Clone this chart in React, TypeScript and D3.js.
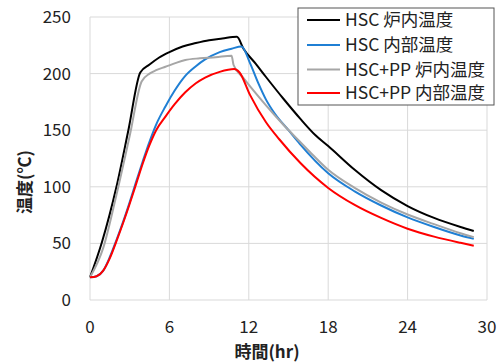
import React from "react";
import * as d3 from "d3";

const xTicks = [0, 6, 12, 18, 24, 30];
const yTicks = [0, 50, 100, 150, 200, 250];

const seriesNames = ["HSC 炉内温度", "HSC 内部温度", "HSC+PP 炉内温度", "HSC+PP 内部温度"];
const seriesColors = ["#000000", "#1f7fd4", "#a6a6a6", "#ff0000"];

const hscFurnaceT = [0, 0.9, 2.0, 2.9, 3.8, 4.5, 5.2, 6, 7, 8, 9, 10, 11.1, 11.6, 12.5, 13.3, 14.6, 15.9, 17, 18, 20, 22, 24, 26, 28, 29];
const hscFurnaceV = [20, 51, 100, 150, 201, 208, 214, 219, 224, 227, 229.5, 231, 232.5, 222, 209, 197, 178, 160, 146, 136, 115, 97, 83, 72.5, 64.5, 61];

const hscInnerT = [0, 0.5, 1.0, 1.5, 2.0, 2.5, 3.0, 3.5, 4.0, 4.5, 5.0, 5.7, 6.4, 7.2, 8.0, 8.7, 9.8, 10.7, 11.45, 12.1, 12.7, 13.3, 14, 15, 15.85, 18, 20, 22, 24, 26, 28, 29];
const hscInnerV = [20, 21, 26, 38, 53, 69, 86.5, 105, 123, 140, 155, 171, 185, 198, 206.5, 212.5, 219, 222, 224, 209, 192, 177, 164, 150, 138, 112, 96, 83.5, 73, 64.5, 57, 54];

const ppFurnaceT = [0, 1.0, 2.0, 3.0, 3.9, 4.5, 5.0, 5.7, 6.5, 7.2, 8.3, 9.5, 10.7, 10.85, 11.6, 13.3, 14.6, 15.85, 16.6, 18, 20, 22, 24, 26, 28, 29];
const ppFurnaceV = [20, 46, 93, 145, 193, 200, 203, 206, 209.5, 212, 213.5, 214.5, 215.8, 207.6, 196, 172, 155, 140, 131, 115, 99, 86, 75.5, 67, 59, 55.5];

const ppInnerT = [0, 0.5, 1.0, 1.5, 2.0, 2.5, 3.0, 3.5, 4.0, 4.5, 5.0, 5.7, 6.4, 7.2, 8.0, 8.7, 9.8, 10.9, 11.3, 12.1, 13.3, 14.3, 15.9, 18, 20, 22, 24, 26, 28, 29];
const ppInnerV = [20, 21, 26, 37, 52, 68, 85, 103, 121, 137, 150, 162, 173, 183.5, 191.5, 196.5, 201.5, 204, 201, 181, 157, 142, 121, 99, 84, 72.5, 63, 56, 50.5, 48];

const seriesT = [hscFurnaceT, hscInnerT, ppFurnaceT, ppInnerT];
const seriesV = [hscFurnaceV, hscInnerV, ppFurnaceV, ppInnerV];

const FONT = "'Noto Sans CJK JP', 'Noto Sans', sans-serif";

export default function App() {
  const W = 500, H = 364;
  const x = d3.scaleLinear().domain([0, 30]).range([90, 487]);
  const y = d3.scaleLinear().domain([0, 250]).range([300, 17]);
  const line = d3
    .line<[number, number]>()
    .x((d) => x(d[0]))
    .y((d) => y(d[1]))
    .curve(d3.curveMonotoneX);

  const legendX = 298, legendY = 8, legendW = 196, legendH = 97;
  const rowY = [20, 45, 69.5, 93];

  return (
    <svg width={W} height={H} style={{ position: "absolute", left: 0, top: 0, background: "#fff" }}>
      <rect x={0} y={0} width={W} height={H} fill="#fff" />
      {xTicks.map((t) => (
        <line key={"gx" + t} x1={x(t)} x2={x(t)} y1={y(0)} y2={y(250)} stroke="#d9d9d9" strokeWidth={1} />
      ))}
      {yTicks.map((t) => (
        <line key={"gy" + t} x1={x(0)} x2={x(30)} y1={y(t)} y2={y(t)} stroke="#d9d9d9" strokeWidth={1} />
      ))}
      {yTicks.map((t) => (
        <text key={"ty" + t} x={71} y={y(t)} dy="0.35em" textAnchor="end" fontSize={17} fontFamily={FONT} fill="#222">
          {t}
        </text>
      ))}
      {xTicks.map((t) => (
        <text key={"tx" + t} x={x(t)} y={327} dy="0.35em" textAnchor="middle" fontSize={17} fontFamily={FONT} fill="#222">
          {t}
        </text>
      ))}
      <text x={267} y={352} dy="0.35em" textAnchor="middle" fontSize={17} fontWeight="bold" fontFamily={FONT} fill="#222">
        時間(hr)
      </text>
      <text
        transform={`translate(25,182) rotate(-90)`}
        dy="0.35em"
        textAnchor="middle"
        fontSize={17}
        fontWeight="bold"
        fontFamily={FONT}
        fill="#222"
      >
        温度(℃)
      </text>
      {seriesT.map((ts, i) => (
        <path
          key={"s" + i}
          d={line(ts.map((t, j) => [t, seriesV[i][j]] as [number, number])) || ""}
          fill="none"
          stroke={seriesColors[i]}
          strokeWidth={2}
          strokeLinejoin="round"
        />
      ))}
      <rect x={legendX} y={legendY} width={legendW} height={legendH} fill="#fff" stroke="#555" strokeWidth={1} />
      {seriesNames.map((n, i) => (
        <g key={"lg" + i}>
          <line x1={307} x2={340} y1={rowY[i]} y2={rowY[i]} stroke={seriesColors[i]} strokeWidth={2} />
          <text x={345} y={rowY[i]} dy="0.35em" fontSize={17.5} fontFamily={FONT} fill="#222">
            {n}
          </text>
        </g>
      ))}
    </svg>
  );
}
